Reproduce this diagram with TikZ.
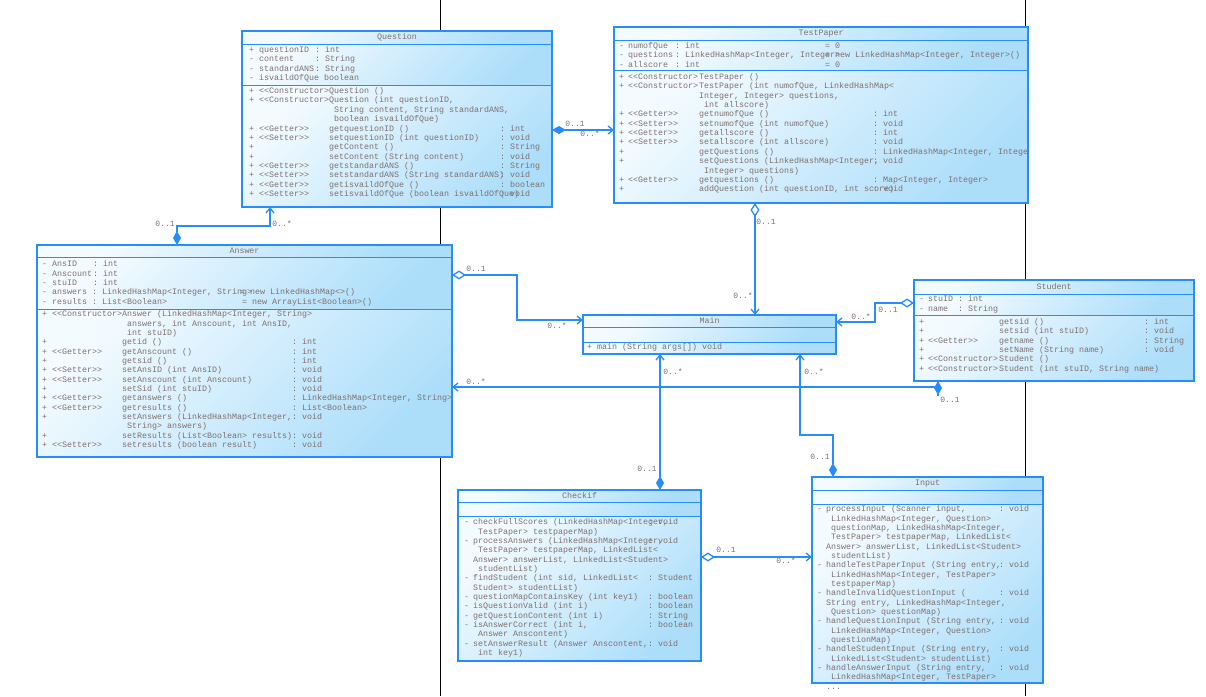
\documentclass[tikz,border=0pt]{standalone}
\usepackage{fontspec}
\setmonofont{Liberation Mono}
\usetikzlibrary{arrows.meta,calc}
\definecolor{bcol}{RGB}{40,140,250}
\definecolor{flight}{RGB}{244,251,255}
\definecolor{fdark}{RGB}{172,222,250}
\definecolor{tcol}{RGB}{128,112,112}
\newlength\colA \newlength\colB \newlength\colC
\newcommand\mrow[4]{\strut\makebox[\colA][l]{#1}\makebox[\colB][l]{#2}\makebox[\colC][l]{#3}#4}
\newcommand\arow[4]{\strut\makebox[\colA][l]{#1}\makebox[#2][l]{#3}#4}
\tikzset{
  cpart/.style={draw=bcol, line width=1pt, top color=flight, bottom color=fdark, shading angle=45, inner sep=0pt, outer sep=0pt, anchor=north west},
  cbox/.style={draw=bcol, line width=1.2pt, inner sep=0pt, outer sep=0pt, anchor=north west},
  utxt/.style={font=\ttfamily\fontsize{8.33}{9.35}\selectfont, text=tcol, align=left, inner sep=0pt, anchor=north west},
  ttl/.style={font=\ttfamily\fontsize{8.33}{9.35}\selectfont, text=tcol, inner sep=0pt},
  lbl/.style={font=\ttfamily\fontsize{8}{9}\selectfont, text=tcol, inner sep=0pt},
  conn/.style={draw=bcol, line width=1.3pt},
  umlfd/.tip={Diamond[length=14pt,width=8pt]},
  umlod/.tip={Diamond[open,fill=white,length=14pt,width=9pt]},
  umlar/.tip={Straight Barb[length=5pt,width=8pt]}
}
\begin{document}
\begin{tikzpicture}[x=1pt,y=-1pt]
\fill[white] (0,0) rectangle (1206,696);
\useasboundingbox (0,0) rectangle (1206,696);
% page separators
\draw[black, line width=1pt] (440,0) -- (440,696);
\draw[black, line width=1pt] (1025,0) -- (1025,696);

% ---------- Question ----------
\node[cpart, minimum width=310pt, minimum height=13pt] (q-t) at (242,31) {};
\node[cpart, minimum width=310pt, minimum height=41pt] (q-a) at (q-t.south west) {};
\node[cpart, minimum width=310pt, minimum height=122pt] (q-o) at (q-a.south west) {};
\node[cbox, minimum width=310pt, minimum height=176pt] (question) at (242,31) {};
\node[ttl] (q-n) at (q-t.center) {Question};
\setlength\colA{10pt}\setlength\colB{70pt}\setlength\colC{171pt}
\node[utxt] (q-at) at ($(q-a.north west)+(7,1.9)$) {%
\arow{+}{56pt}{questionID}{: int}\\
\arow{-}{56pt}{content}{: String}\\
\arow{-}{56pt}{standardANS}{: String}\\
\arow{-}{56pt}{isvaildOfQue boolean}{}};
\node[utxt] (q-op) at ($(q-o.north west)+(7,1.9)$) {%
\mrow{+}{<<Constructor>}{Question ()}{}\\
\mrow{+}{<<Constructor>}{Question (int questionID,}{}\\
\mrow{}{}{\ String content, String standardANS,}{}\\
\mrow{}{}{\ boolean isvaildOfQue)}{}\\
\mrow{+}{<<Getter>>}{getquestionID ()}{: int}\\
\mrow{+}{<<Setter>>}{setquestionID (int questionID)}{: void}\\
\mrow{+}{}{getContent ()}{: String}\\
\mrow{+}{}{setContent (String content)}{: void}\\
\mrow{+}{<<Getter>>}{getstandardANS ()}{: String}\\
\mrow{+}{<<Setter>>}{setstandardANS (String standardANS)}{: void}\\
\mrow{+}{<<Getter>>}{getisvaildOfQue ()}{: boolean}\\
\mrow{+}{<<Setter>>}{setisvaildOfQue (boolean isvaildOfQue)}{: void}};

% ---------- TestPaper ----------
\node[cpart, minimum width=414pt, minimum height=13pt] (t-t) at (614,27) {};
\node[cpart, minimum width=414pt, minimum height=30pt] (t-a) at (t-t.south west) {};
\node[cpart, minimum width=414pt, minimum height=133pt] (t-o) at (t-a.south west) {};
\node[cbox, minimum width=414pt, minimum height=176pt] (testpaper) at (614,27) {};
\node[ttl] (t-n) at (t-t.center) {TestPaper};
\setlength\colA{9pt}\setlength\colB{71pt}\setlength\colC{174pt}
\node[utxt] (t-at) at ($(t-a.north west)+(5,1.9)$) {%
\arow{-}{47pt}{numofQue}{\makebox[150pt][l]{: int}= 0}\\
\arow{-}{47pt}{questions}{\makebox[150pt][l]{: LinkedHashMap<Integer, Integer>}= new LinkedHashMap<Integer, Integer>()}\\
\arow{-}{47pt}{allscore}{\makebox[150pt][l]{: int}= 0}};
\node[utxt] (t-op) at ($(t-o.north west)+(5,2.8)$) {%
\mrow{+}{<<Constructor>}{TestPaper ()}{}\\
\mrow{+}{<<Constructor>}{TestPaper (int numofQue, LinkedHashMap<}{}\\
\mrow{}{}{Integer, Integer> questions,}{}\\
\mrow{}{}{\ int allscore)}{}\\
\mrow{+}{<<Getter>>}{getnumofQue ()}{: int}\\
\mrow{+}{<<Setter>>}{setnumofQue (int numofQue)}{: void}\\
\mrow{+}{<<Getter>>}{getallscore ()}{: int}\\
\mrow{+}{<<Setter>>}{setallscore (int allscore)}{: void}\\
\mrow{+}{}{getQuestions ()}{: LinkedHashMap<Integer, Intege}\\
\mrow{+}{}{setQuestions (LinkedHashMap<Integer,}{: void}\\
\mrow{}{}{\ Integer> questions)}{}\\
\mrow{+}{<<Getter>>}{getquestions ()}{: Map<Integer, Integer>}\\
\mrow{+}{}{addQuestion (int questionID, int score)}{: void}};

% ---------- Answer ----------
\node[cpart, minimum width=415pt, minimum height=12pt] (a-t) at (37,245) {};
\node[cpart, minimum width=415pt, minimum height=52pt] (a-a) at (a-t.south west) {};
\node[cpart, minimum width=415pt, minimum height=148pt] (a-o) at (a-a.south west) {};
\node[cbox, minimum width=415pt, minimum height=212pt] (answer) at (37,245) {};
\node[ttl] (a-n) at (a-t.center) {Answer};
\setlength\colA{10pt}\setlength\colB{70pt}\setlength\colC{170pt}
\node[utxt] (a-at) at ($(a-a.north west)+(5,2.9)$) {%
\arow{-}{41pt}{AnsID}{: int}\\
\arow{-}{41pt}{Anscount}{: int}\\
\arow{-}{41pt}{stuID}{: int}\\
\arow{-}{188pt}{answers : LinkedHashMap<Integer, String>}{= new LinkedHashMap<>()}\\
\arow{-}{190pt}{results : List<Boolean>}{= new ArrayList<Boolean>()}};
\node[utxt] (a-op) at ($(a-o.north west)+(5,0.9)$) {%
\mrow{+}{<<Constructor>}{Answer (LinkedHashMap<Integer, String>}{}\\
\mrow{}{}{\ answers, int Anscount, int AnsID,}{}\\
\mrow{}{}{\ int stuID)}{}\\
\mrow{+}{}{getid ()}{: int}\\
\mrow{+}{<<Getter>>}{getAnscount ()}{: int}\\
\mrow{+}{}{getsid ()}{: int}\\
\mrow{+}{<<Setter>>}{setAnsID (int AnsID)}{: void}\\
\mrow{+}{<<Setter>>}{setAnscount (int Anscount)}{: void}\\
\mrow{+}{}{setSid (int stuID)}{: void}\\
\mrow{+}{<<Getter>>}{getanswers ()}{: LinkedHashMap<Integer, String>}\\
\mrow{+}{<<Getter>>}{getresults ()}{: List<Boolean>}\\
\mrow{+}{}{setAnswers (LinkedHashMap<Integer,}{: void}\\
\mrow{}{}{\ String> answers)}{}\\
\mrow{+}{}{setResults (List<Boolean> results)}{: void}\\
\mrow{+}{<<Setter>>}{setresults (boolean result)}{: void}};

% ---------- Main ----------
\node[cpart, minimum width=253pt, minimum height=12pt] (m-t) at (583,315) {};
\node[cpart, minimum width=253pt, minimum height=15pt] (m-a) at (m-t.south west) {};
\node[cpart, minimum width=253pt, minimum height=12pt] (m-o) at (m-a.south west) {};
\node[cbox, minimum width=253pt, minimum height=39pt] (mainc) at (583,315) {};
\node[ttl] (m-n) at (m-t.center) {Main};
\node[utxt] (m-op) at ($(m-o.north west)+(4,1.0)$) {\strut+ main (String args[]) void};

% ---------- Student ----------
\node[cpart, minimum width=280pt, minimum height=14pt] (s-t) at (914,280) {};
\node[cpart, minimum width=280pt, minimum height=21pt] (s-a) at (s-t.south west) {};
\node[cpart, minimum width=280pt, minimum height=66pt] (s-o) at (s-a.south west) {};
\node[cbox, minimum width=280pt, minimum height=101pt] (student) at (914,280) {};
\node[ttl] (s-n) at (s-t.center) {Student};
\setlength\colA{9pt}\setlength\colB{71pt}\setlength\colC{145pt}
\node[utxt] (s-at) at ($(s-a.north west)+(5,0.9)$) {%
\arow{-}{30pt}{stuID}{: int}\\
\arow{-}{30pt}{name}{: String}};
\node[utxt] (s-op) at ($(s-o.north west)+(5,2.8)$) {%
\mrow{+}{}{getsid ()}{: int}\\
\mrow{+}{}{setsid (int stuID)}{: void}\\
\mrow{+}{<<Getter>>}{getname ()}{: String}\\
\mrow{+}{}{setName (String name)}{: void}\\
\mrow{+}{<<Constructor>}{Student ()}{}\\
\mrow{+}{<<Constructor>}{Student (int stuID, String name)}{}};

% ---------- Checkif ----------
\node[cpart, minimum width=243pt, minimum height=12pt] (c-t) at (458,490) {};
\node[cpart, minimum width=243pt, minimum height=14pt] (c-a) at (c-t.south west) {};
\node[cpart, minimum width=243pt, minimum height=145pt] (c-o) at (c-a.south west) {};
\node[cbox, minimum width=243pt, minimum height=171pt] (checkif) at (458,490) {};
\node[ttl] (c-n) at (c-t.center) {Checkif};
\setlength\colA{9pt}\setlength\colB{0pt}\setlength\colC{175pt}
\node[utxt] (c-op) at ($(c-o.north west)+(6,1.9)$) {%
\mrow{-}{}{checkFullScores (LinkedHashMap<Integer,}{: void}\\
\mrow{}{}{\ TestPaper> testpaperMap)}{}\\
\mrow{-}{}{processAnswers (LinkedHashMap<Integer,}{: void}\\
\mrow{}{}{\ TestPaper> testpaperMap, LinkedList<}{}\\
\mrow{}{}{Answer> answerList, LinkedList<Student>}{}\\
\mrow{}{}{\ studentList)}{}\\
\mrow{-}{}{findStudent (int sid, LinkedList<}{: Student}\\
\mrow{}{}{Student> studentList)}{}\\
\mrow{-}{}{questionMapContainsKey (int key1)}{: boolean}\\
\mrow{-}{}{isQuestionValid (int i)}{: boolean}\\
\mrow{-}{}{getQuestionContent (int i)}{: String}\\
\mrow{-}{}{isAnswerCorrect (int i,}{: boolean}\\
\mrow{}{}{\ Answer Anscontent)}{}\\
\mrow{-}{}{setAnswerResult (Answer Anscontent,}{: void}\\
\mrow{}{}{\ int key1)}{}};

% ---------- Input ----------
\node[cpart, minimum width=231pt, minimum height=13pt] (i-t) at (812,477) {};
\node[cpart, minimum width=231pt, minimum height=14pt] (i-a) at (i-t.south west) {};
\node[cpart, minimum width=231pt, minimum height=179pt] (i-o) at (i-a.south west) {};
\node[cbox, minimum width=231pt, minimum height=206pt] (input) at (812,477) {};
\node[ttl] (i-n) at (i-t.center) {Input};
\setlength\colA{9pt}\setlength\colB{0pt}\setlength\colC{173pt}
\node[utxt] (i-op) at ($(i-o.north west)+(5,0.9)$) {%
\mrow{-}{}{processInput (Scanner input,}{: void}\\
\mrow{}{}{\ LinkedHashMap<Integer, Question>}{}\\
\mrow{}{}{\ questionMap, LinkedHashMap<Integer,}{}\\
\mrow{}{}{\ TestPaper> testpaperMap, LinkedList<}{}\\
\mrow{}{}{Answer> answerList, LinkedList<Student>}{}\\
\mrow{}{}{\ studentList)}{}\\
\mrow{-}{}{handleTestPaperInput (String entry,}{: void}\\
\mrow{}{}{\ LinkedHashMap<Integer, TestPaper>}{}\\
\mrow{}{}{\ testpaperMap)}{}\\
\mrow{-}{}{handleInvalidQuestionInput (}{: void}\\
\mrow{}{}{String entry, LinkedHashMap<Integer,}{}\\
\mrow{}{}{\ Question> questionMap)}{}\\
\mrow{-}{}{handleQuestionInput (String entry,}{: void}\\
\mrow{}{}{\ LinkedHashMap<Integer, Question>}{}\\
\mrow{}{}{\ questionMap)}{}\\
\mrow{-}{}{handleStudentInput (String entry,}{: void}\\
\mrow{}{}{\ LinkedList<Student> studentList)}{}\\
\mrow{-}{}{handleAnswerInput (String entry,}{: void}\\
\mrow{}{}{\ LinkedHashMap<Integer, TestPaper>}{}\\
\mrow{}{}{...}{}};

% ---------- connectors ----------
\draw[conn, umlfd-umlar] (question.east |- 0,130) -- (testpaper.west |- 0,130);
\node[lbl] (l1a) at (575,124) {0..1};
\node[lbl] (l1b) at (590,134) {0..*};

\draw[conn, umlfd-umlar] (177,0 |- answer.north) -- (177,226) -- (270,226) -- (270,0 |- question.south);
\node[lbl] (l2a) at (165,224) {0..1};
\node[lbl] (l2b) at (282,224) {0..*};

\draw[conn, umlod-umlar] (755,0 |- testpaper.south) -- (755,0 |- mainc.north);
\node[lbl] (l3a) at (766,222) {0..1};
\node[lbl] (l3b) at (743,296) {0..*};

\draw[conn, umlod-umlar] (answer.east |- 0,275) -- (517,275) -- (517,320) -- (mainc.west |- 0,320);
\node[lbl] (l4a) at (476,269) {0..1};
\node[lbl] (l4b) at (557,326) {0..*};

\draw[conn, umlod-umlar] (student.west |- 0,303) -- (875,303) -- (875,322) -- (mainc.east |- 0,322);
\node[lbl] (l5a) at (888,310) {0..1};
\node[lbl] (l5b) at (861,317) {0..*};

\draw[conn, -umlar] (938,0 |- student.south) -- (938,387) -- (answer.east |- 0,387);
\draw[conn, umlfd-] (938,0 |- student.south) -- ++(0,15);
\node[lbl] (l6a) at (950,400) {0..1};
\node[lbl] (l6b) at (476,382) {0..*};

\draw[conn, umlfd-umlar] (660,0 |- checkif.north) -- (660,0 |- mainc.south);
\node[lbl] (l7a) at (647,469) {0..1};
\node[lbl] (l7b) at (673,372) {0..*};

\draw[conn, umlfd-umlar] (833,0 |- input.north) -- (833,435) -- (800,435) -- (800,0 |- mainc.south);
\node[lbl] (l8a) at (820,457) {0..1};
\node[lbl] (l8b) at (814,372) {0..*};

\draw[conn, umlod-umlar] (checkif.east |- 0,557) -- (input.west |- 0,557);
\node[lbl] (l9a) at (726,550) {0..1};
\node[lbl] (l9b) at (786,561) {0..*};
\end{tikzpicture}
\end{document}
